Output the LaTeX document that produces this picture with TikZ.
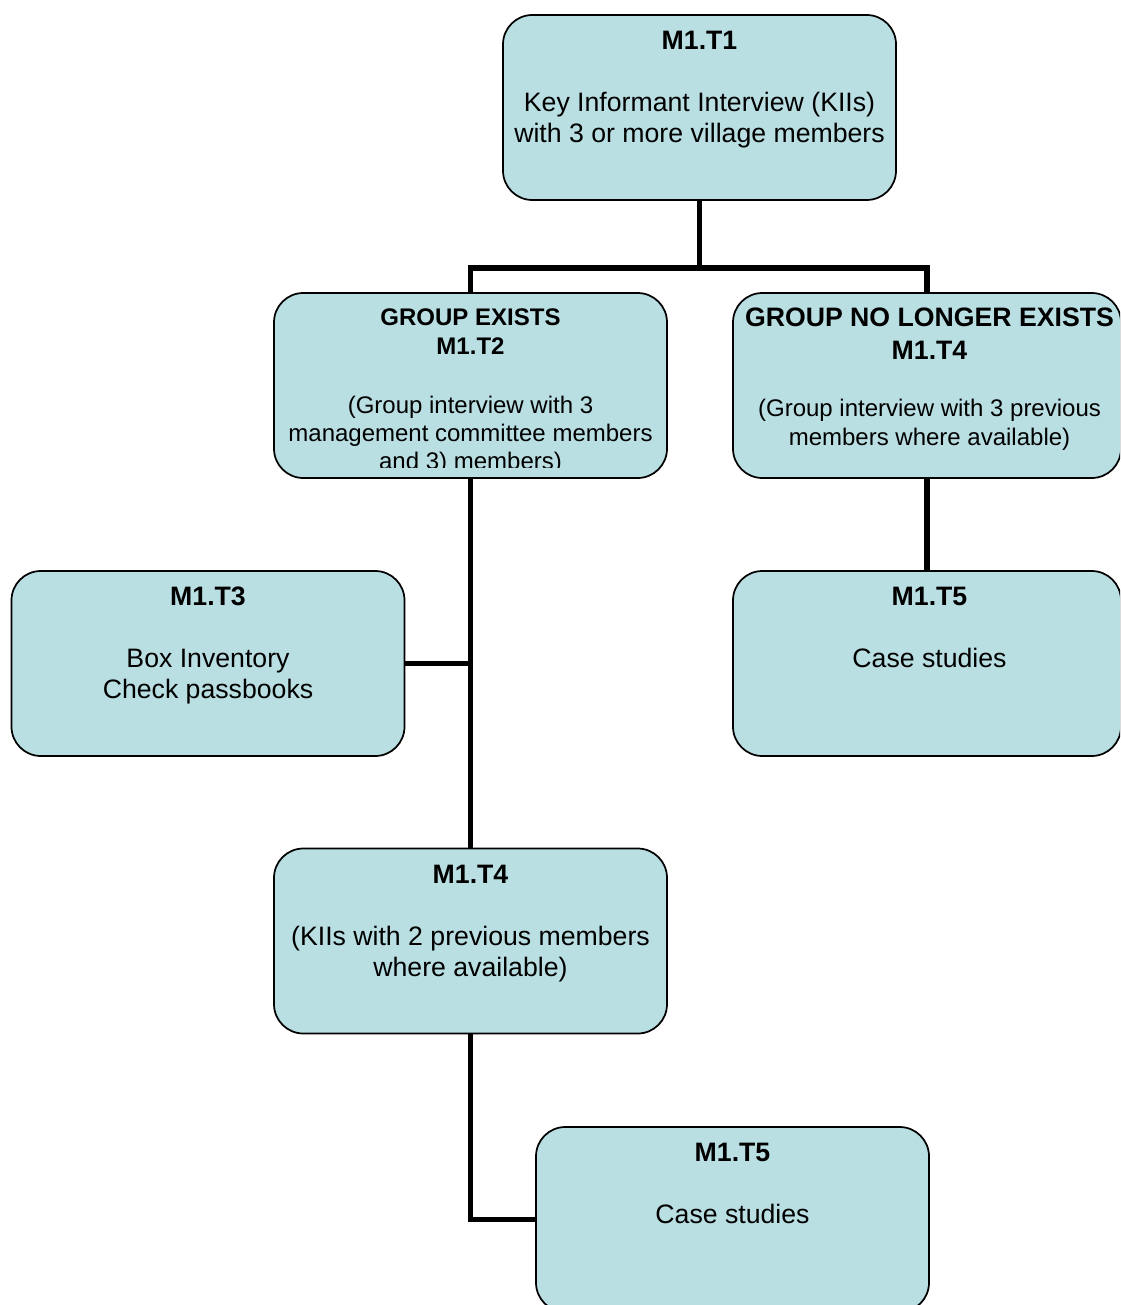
\documentclass[tikz,border=0pt]{standalone}
\usepackage{fontspec}
\setmainfont{Liberation Sans}
\usetikzlibrary{backgrounds}
\definecolor{boxfill}{RGB}{185,223,227}
\begin{document}
\begin{tikzpicture}[x=0.75pt,y=-0.75pt,
  box/.style={draw=black, line width=1.3pt, fill=boxfill, rounded corners=22pt, inner sep=0pt,
              minimum width=294.75pt, minimum height=138.75pt},
  conn/.style={line width=3.8pt, draw=black},
  hd/.style={anchor=base, inner sep=0pt, font=\bfseries\fontsize{20}{23}\selectfont},
  hds/.style={anchor=base, inner sep=0pt, font=\bfseries\fontsize{18}{21}\selectfont},
  bd/.style={anchor=base, inner sep=0pt, font=\fontsize{20}{23}\selectfont},
  bds/.style={anchor=base, inner sep=0pt, font=\fontsize{18}{21}\selectfont}]
\clip (0,0) rectangle (1120,1305);

% boxes
\node[box] (t1) at (699.5,107.5) {};
\node[box] (t2) at (470.5,385.5) {};
\node[box, minimum width=291pt] (t4r) at (927,385.5) {};
\node[box] (t3) at (208,663.5) {};
\node[box, minimum width=291pt] (t5r) at (927,663.5) {};
\node[box] (t4b) at (470.5,941) {};
\node[box] (t5b) at (732.5,1219.5) {};

% connectors (behind boxes)
\begin{pgfonlayer}{background}
\coordinate (j1) at (699.5,268);
\draw[conn] (t1.south) -- (j1);
\draw[conn] (t2.north) |- (j1) -| (t4r.north);
\draw[conn] (t2.south) -- (t4b.north);
\draw[conn] (t3.east) -- (t3.east -| t2.south);
\draw[conn] (t4r.south) -- (t5r.north);
\draw[conn] (t4b.south) |- (t5b.west);
\end{pgfonlayer}

% T1
\node[hd] (t1h) at (699.5,49.5) {M1.T1};
\node[bd] (t1a) at (699.5,111.7) {Key Informant Interview (KIIs)};
\node[bd] (t1b) at (699.5,142.7) {with 3 or more village members};

% T2 (text clipped at bottom)
\node[hds] (t2g) at (470.5,325) {GROUP EXISTS};
\node[hds] (t2h) at (470.5,354.5) {M1.T2};
\begin{scope}
\clip (274,293) rectangle (667,467);
\node[bds] (t2a) at (470.5,413.5) {(Group interview with 3};
\node[bds] (t2b) at (470.5,441.5) {management committee members};
\node[bds] (t2c) at (470.5,469.5) {and 3) members)};
\end{scope}

% T4 right
\node[hd] (t4rg) at (929.5,326.7) {GROUP NO LONGER EXISTS};
\node[hd] (t4rh) at (929.5,359.3) {M1.T4};
\node[bds] (t4ra) at (929.5,416.7) {(Group interview with 3 previous};
\node[bds] (t4rb) at (929.5,445) {members where available)};

% T3
\node[hd] (t3h) at (208,605.5) {M1.T3};
\node[bd] (t3a) at (208,667.7) {Box Inventory};
\node[bd] (t3b) at (208,698.7) {Check passbooks};

% T5 right
\node[hd] (t5rh) at (929.5,605.5) {M1.T5};
\node[bd] (t5ra) at (929.5,667.7) {Case studies};

% T4 bottom
\node[hd] (t4bh) at (470.5,883.5) {M1.T4};
\node[bd] (t4ba) at (470.5,945.7) {(KIIs with 2 previous members};
\node[bd] (t4bb) at (470.5,976.7) {where available)};

% T5 bottom
\node[hd] (t5bh) at (732.5,1161.5) {M1.T5};
\node[bd] (t5ba) at (732.5,1223.7) {Case studies};
\end{tikzpicture}
\end{document}
